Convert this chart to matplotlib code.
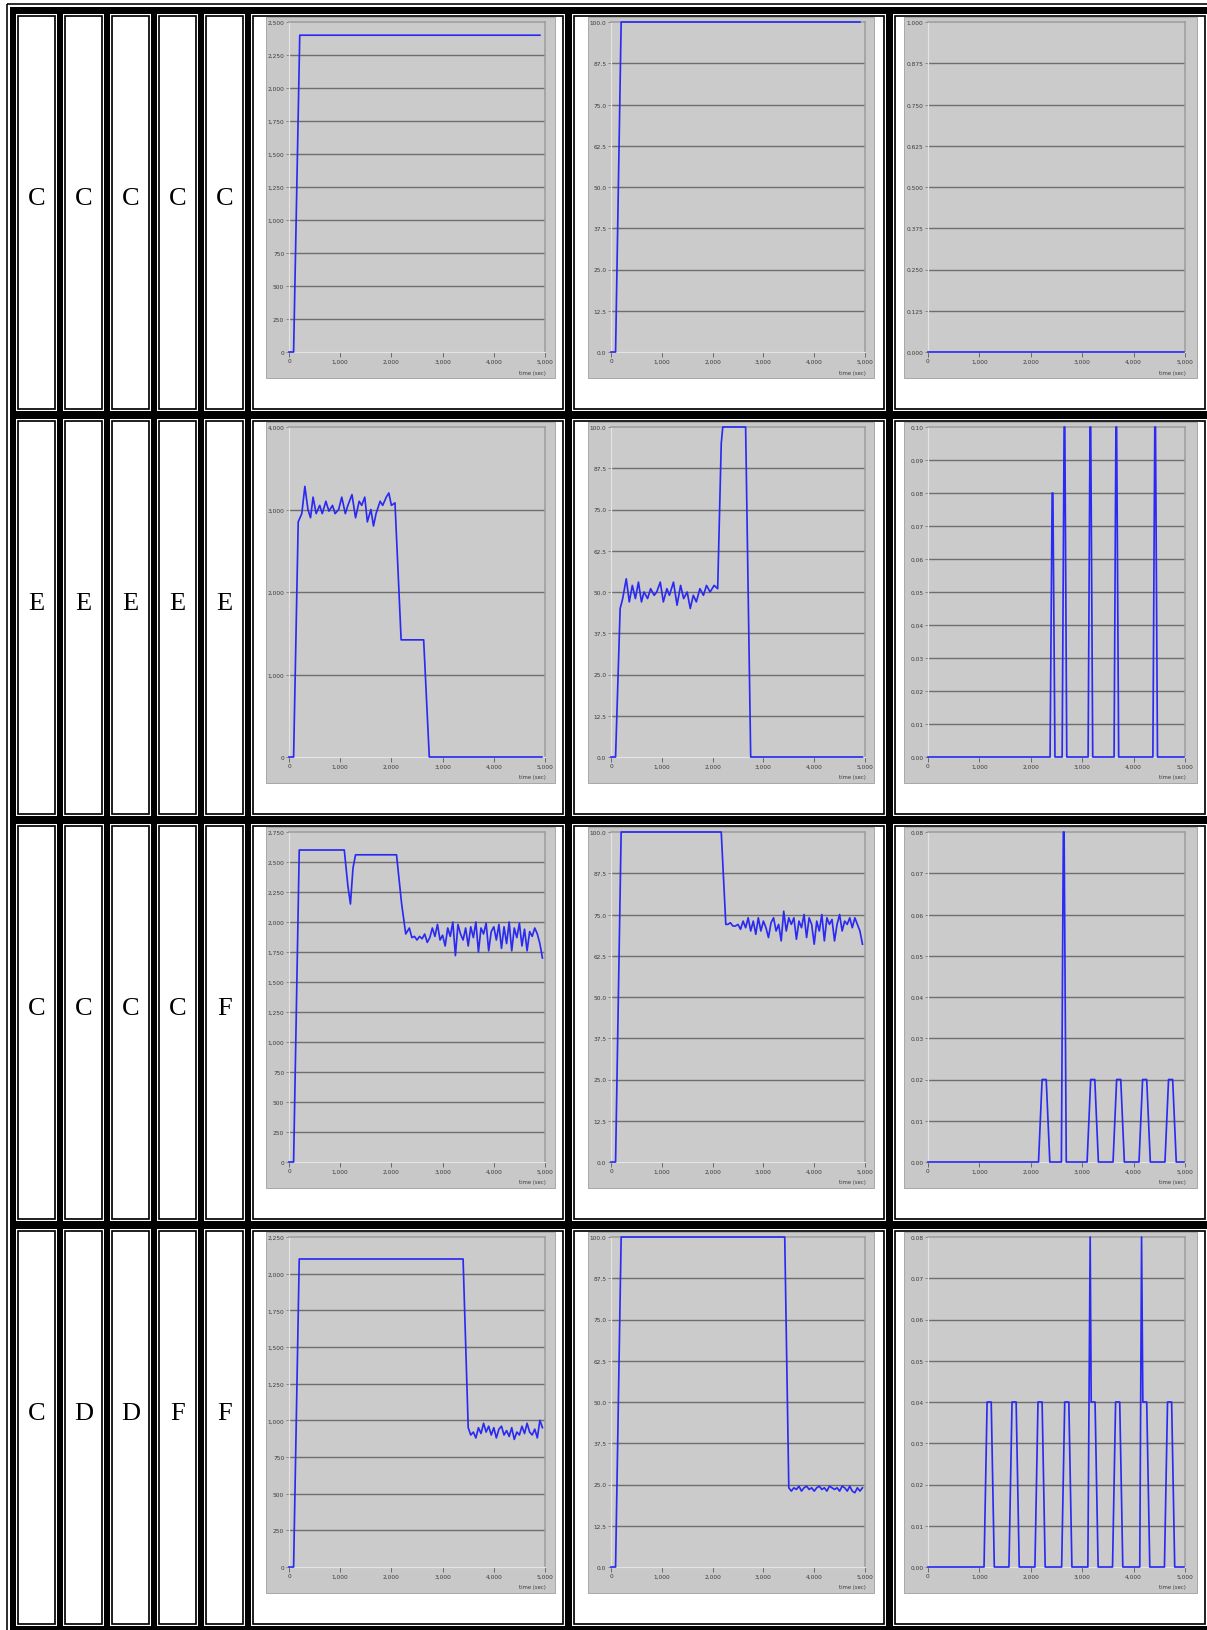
import matplotlib
matplotlib.use("Agg")
import matplotlib.pyplot as plt
from matplotlib.patches import Rectangle

W, H, DPI = 1207, 1631, 100

# ---------------------------------------------------------------- data
row_letters = [
    ["C", "C", "C", "C", "C"],
    ["E", "E", "E", "E", "E"],
    ["C", "C", "C", "C", "F"],
    ["C", "D", "D", "F", "F"],
]

time_ticks = [0, 1000, 2000, 3000, 4000, 5000]

# y-axis scales: (max, step, label format) per column and row
axis_a = [(2500, 250, "int"), (4000, 1000, "int"), (2750, 250, "int"), (2250, 250, "int")]
axis_b = [(100, 12.5, "1f"), (100, 12.5, "1f"), (100, 12.5, "1f"), (100, 12.5, "1f")]
axis_c = [(1.0, 0.125, "3f"), (0.10, 0.01, "2f"), (0.08, 0.01, "2f"), (0.08, 0.01, "2f")]

# row 1
r1_a_t = [0, 90, 210, 4900]
r1_a_v = [0, 0, 2400, 2400]
r1_b_t = [0, 90, 200, 4900]
r1_b_v = [0, 0, 100, 100]
r1_c_t = [0, 4980]
r1_c_v = [0, 0]

# row 2
r2_a_t = [0, 90, 180, 250, 310, 370, 420, 470, 530, 600, 650, 720, 780, 850, 900,
          970, 1030, 1100, 1150, 1230, 1300, 1370, 1420, 1480, 1530, 1600, 1650,
          1700, 1780, 1830, 1900, 1950, 2000, 2070, 2190, 2630, 2740, 4940]
r2_a_v = [0, 0, 2850, 2950, 3280, 3000, 2900, 3150, 2950, 3050, 2950, 3100, 2980,
          3050, 2950, 3000, 3150, 2950, 3050, 3180, 2900, 3100, 3050, 3150, 2850,
          3000, 2800, 2950, 3100, 3050, 3150, 3200, 3050, 3080, 1420, 1420, 0, 0]
r2_b_t = [0, 90, 180, 230, 300, 360, 420, 480, 540, 600, 650, 720, 780, 850, 900,
          970, 1030, 1100, 1150, 1230, 1300, 1370, 1430, 1500, 1560, 1620, 1680,
          1750, 1820, 1880, 1950, 2030, 2100, 2170, 2200, 2650, 2750, 4950]
r2_b_v = [0, 0, 45, 48, 54, 47, 52, 48, 53, 47, 50, 48, 51, 49, 50, 53, 47, 51,
          49, 53, 46, 52, 48, 50, 45, 49, 47, 51, 49, 52, 50, 52, 51, 95, 100, 100,
          0, 0]
r2_c_t = [0, 2375, 2415, 2430, 2470, 2610, 2648, 2662, 2700, 3115, 3152, 3166,
          3205, 3620, 3656, 3670, 3710, 4375, 4412, 4426, 4465, 4980]
r2_c_v = [0, 0, 0.08, 0.08, 0, 0, 0.10, 0.10, 0, 0, 0.10, 0.10, 0, 0, 0.10,
          0.10, 0, 0, 0.10, 0.10, 0, 0]

# row 3
r3_a_t = [0, 90, 200, 1080, 1150, 1200, 1250, 1300, 2100, 2200, 2280, 2350,
          2400, 2450, 2500, 2550, 2600, 2650, 2700, 2750, 2800, 2850, 2900, 2950,
          3000, 3050, 3100, 3150, 3200, 3250, 3300, 3350, 3400, 3450, 3500, 3550,
          3600, 3650, 3700, 3750, 3800, 3850, 3900, 3950, 4000, 4050, 4100, 4150,
          4200, 4250, 4300, 4350, 4400, 4450, 4500, 4550, 4600, 4650, 4700, 4750,
          4800, 4850, 4900, 4950]
r3_a_v = [0, 0, 2600, 2600, 2300, 2150, 2450, 2560, 2560, 2150, 1900, 1950,
          1870, 1880, 1850, 1880, 1860, 1900, 1830, 1870, 1950, 1880, 1980, 1850,
          1890, 1800, 1950, 1880, 2000, 1720, 1980, 1900, 1850, 1950, 1800, 1960,
          1870, 2000, 1750, 1950, 1900, 1990, 1760, 1920, 1960, 1850, 1980, 1780,
          1960, 1820, 2000, 1760, 1950, 1870, 1990, 1800, 1940, 1760, 1920, 1880,
          1950, 1900, 1820, 1700]
r3_b_t = [0, 90, 200, 2170, 2260, 2300, 2350, 2400, 2450, 2500, 2550, 2600,
          2650, 2700, 2750, 2800, 2850, 2900, 2950, 3000, 3050, 3100, 3150, 3200,
          3250, 3300, 3350, 3400, 3450, 3500, 3550, 3600, 3650, 3700, 3750, 3800,
          3850, 3900, 3950, 4000, 4050, 4100, 4150, 4200, 4250, 4300, 4350, 4400,
          4450, 4500, 4550, 4600, 4650, 4700, 4750, 4800, 4850, 4900, 4950]
r3_b_v = [0, 0, 100, 100, 72, 72, 72.5, 71.5, 71.5, 72, 70.5, 73, 71, 74, 70,
          73, 69, 74, 70, 73, 71, 68, 72.5, 74, 70, 72, 67, 76, 70, 74, 72, 74,
          67.5, 73, 71, 75, 68, 74, 72, 66, 73, 70, 75, 67, 74, 72, 73.5, 67, 72,
          75, 70, 73, 72, 74, 71, 74, 72, 70, 66]
r3_c_t = [0, 2150, 2220, 2300, 2370, 2595, 2633, 2648, 2690, 3095, 3165, 3245,
          3315, 3600, 3670, 3750, 3820, 4105, 4175, 4255, 4325, 4610, 4680, 4760,
          4830, 4980]
r3_c_v = [0, 0, 0.02, 0.02, 0, 0, 0.08, 0.08, 0, 0, 0.02, 0.02, 0, 0, 0.02,
          0.02, 0, 0, 0.02, 0.02, 0, 0, 0.02, 0.02, 0, 0]

# row 4
r4_a_t = [0, 90, 200, 3400, 3500, 3550, 3600, 3650, 3700, 3750, 3800, 3850,
          3900, 3950, 4000, 4050, 4100, 4150, 4200, 4250, 4300, 4350, 4400, 4450,
          4500, 4550, 4600, 4650, 4700, 4750, 4800, 4850, 4900, 4950]
r4_a_v = [0, 0, 2100, 2100, 950, 900, 920, 880, 950, 910, 980, 920, 960, 900,
          950, 880, 940, 960, 900, 930, 890, 950, 870, 920, 900, 960, 910, 980,
          920, 900, 940, 880, 1000, 950]
r4_b_t = [0, 90, 200, 3420, 3500, 3550, 3600, 3650, 3700, 3750, 3800, 3850,
          3900, 3950, 4000, 4050, 4100, 4150, 4200, 4250, 4300, 4350, 4400, 4450,
          4500, 4550, 4600, 4650, 4700, 4750, 4800, 4850, 4900, 4950]
r4_b_v = [0, 0, 100, 100, 24, 23, 24, 23.5, 24.5, 23, 24, 24.5, 23.5, 24, 23,
          24, 24.5, 23.5, 24, 23, 24.5, 24, 23.5, 24, 23, 24.5, 24, 23, 24.5, 23,
          22.5, 24, 23, 24]
r4_c_t = [0, 1090, 1150, 1230, 1290, 1575, 1635, 1715, 1775, 2080, 2140, 2220,
          2280, 2600, 2660, 2740, 2800, 3110, 3155, 3175, 3250, 3310, 3590, 3650,
          3730, 3790, 4120, 4155, 4180, 4255, 4315, 4600, 4660, 4740, 4800, 4980]
r4_c_v = [0, 0, 0.04, 0.04, 0, 0, 0.04, 0.04, 0, 0, 0.04, 0.04, 0, 0, 0.04,
          0.04, 0, 0, 0.08, 0.04, 0.04, 0, 0, 0.04, 0.04, 0, 0, 0.08, 0.04, 0.04,
          0, 0, 0.04, 0.04, 0, 0]

series_a = [(r1_a_t, r1_a_v), (r2_a_t, r2_a_v), (r3_a_t, r3_a_v), (r4_a_t, r4_a_v)]
series_b = [(r1_b_t, r1_b_v), (r2_b_t, r2_b_v), (r3_b_t, r3_b_v), (r4_b_t, r4_b_v)]
series_c = [(r1_c_t, r1_c_v), (r2_c_t, r2_c_v), (r3_c_t, r3_c_v), (r4_c_t, r4_c_v)]

# ---------------------------------------------------------------- layout (pixels)
row_top = [15, 420, 825, 1230]
row_h = 397
letter_x = [16, 63, 110, 157, 204]
letter_w = 41
chart_x = [251, 572, 893]
chart_w = 314
panel_x = [(266, 555), (588, 874), (904, 1197)]
plot_x = [(289, 545), (611, 865), (928, 1185)]
PANEL_DY = (3, 364)
PLOT_DY = (8, 338)

LINE_BLUE = "#2a2af2"
PANEL_BG = "#c8c8c8"
GRID = "#6e6e6e"
TXT = "#3c3c3c"


def fmt_value(v, kind):
    if kind == "int":
        return f"{v:,.0f}"
    return f"{v:.{kind}}"


fig = plt.figure(figsize=(W / DPI, H / DPI), dpi=DPI)
bg = fig.add_axes([0, 0, 1, 1])
bg.set_xlim(0, W)
bg.set_ylim(H, 0)
bg.axis("off")

px = 72.0 / DPI  # points per pixel

# table frame
bg.add_patch(Rectangle((6.5, 5), W, H, fill=False, ec="black", lw=1.6 * px))
bg.add_patch(Rectangle((10, 8), W, H, fc="black", ec="none"))


def cell(x, y, w, h):
    bg.add_patch(Rectangle((x, y), w, h, fc="white", ec="none"))
    bg.add_patch(Rectangle((x + 2.2, y + 2.2), w - 4.4, h - 4.4, fill=False,
                           ec="black", lw=1.7 * px))


for r, top in enumerate(row_top):
    for c, lx in enumerate(letter_x):
        cell(lx, top, letter_w, row_h)
        bg.text(lx + letter_w / 2, top + 184, row_letters[r][c], ha="center",
                va="center", fontsize=19, family="Liberation Serif", color="black")
    for cx in chart_x:
        cell(cx, top, chart_w, row_h)


def chart(r, c, axis_spec, data):
    top = row_top[r]
    p0, p1 = panel_x[c]
    bg.add_patch(Rectangle((p0, top + PANEL_DY[0]), p1 - p0, PANEL_DY[1] - PANEL_DY[0],
                           fc=PANEL_BG, ec="#a9a9a9", lw=1.0 * px))
    x0, x1 = plot_x[c]
    yt, yb = top + PLOT_DY[0], top + PLOT_DY[1]
    ax = fig.add_axes([x0 / W, 1 - yb / H, (x1 - x0) / W, (yb - yt) / H])
    ax.set_facecolor("#cbcbcb")
    ymax, step, kind = axis_spec
    n = int(round(ymax / step))
    yt_vals = [i * step for i in range(n + 1)]
    ax.set_xlim(0, 5000)
    ax.set_ylim(0, ymax)
    ax.set_yticks(yt_vals)
    ax.set_yticklabels([fmt_value(v, kind) for v in yt_vals])
    ax.set_xticks(time_ticks)
    ax.set_xticklabels([f"{v:,}" for v in time_ticks])
    for v in yt_vals[1:-1]:
        ax.axhline(v, color=GRID, lw=1.4 * px, zorder=1)
    ax.tick_params(axis="y", length=2.2, width=0.8 * px, colors="#777777",
                   labelcolor=TXT, labelsize=4.2, pad=1.2)
    ax.tick_params(axis="x", length=3.6, width=0.8 * px, colors="#555555",
                   labelcolor=TXT, labelsize=4.2, pad=1.0)
    for side in ("top", "right"):
        ax.spines[side].set_color("#9c9c9c")
        ax.spines[side].set_linewidth(1.5 * px)
    for side in ("left", "bottom"):
        ax.spines[side].set_color("#e4e4e4")
        ax.spines[side].set_linewidth(1.2 * px)
    t, v = data
    ax.plot(t, v, color=LINE_BLUE, lw=1.7 * px, clip_on=False, zorder=3)
    bg.text(x1 + 1, top + 358, "time (sec)", ha="right", va="center",
            fontsize=3.8, color=TXT)


for r in range(4):
    chart(r, 0, axis_a[r], series_a[r])
    chart(r, 1, axis_b[r], series_b[r])
    chart(r, 2, axis_c[r], series_c[r])

fig.savefig("out.png", dpi=DPI)
